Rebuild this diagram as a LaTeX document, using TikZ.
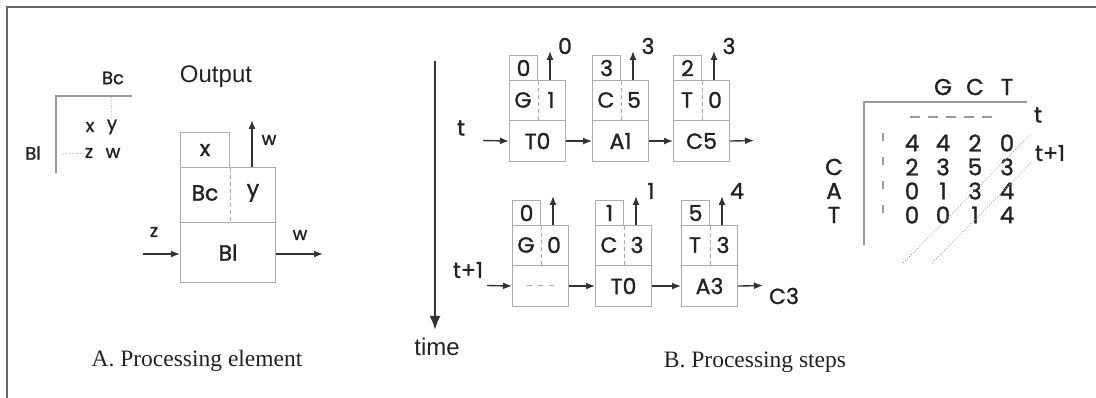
\documentclass[tikz,border=0pt]{standalone}
\usepackage{fontspec}
\setmainfont{Liberation Serif}
\newfontfamily\labfont[FakeBold=1.2]{Poppins}
\newfontfamily\arfont{Liberation Sans}
\usetikzlibrary{arrows.meta}
\definecolor{boxc}{HTML}{ABABAB}
\definecolor{ink}{HTML}{222222}
\definecolor{arrc}{HTML}{333333}
\definecolor{framec}{HTML}{666666}
\definecolor{linec}{HTML}{9A9A9A}
\newcommand\pecell[8]{%
  \node[cell,minimum width=28pt,minimum height=25pt] (#1s) at (#2,#3-25) {};
  \node[cell,minimum width=56pt,minimum height=40pt] (#1m) at (#2,#3) {};
  \node[cell,minimum width=56pt,minimum height=41pt] (#1b) at (#2,#3+40) {};
  \draw[boxc,line width=0.9pt,dash pattern=on 4pt off 3pt] (#1s.south east) -- (#1s.south east |- #1b.north);
  \node[lbl] (#1tn) at (#1s) {#4};
  \node[lbl] (#1ln) at (#2+14,#3+20) {#5};
  \node[lbl] (#1rn) at (#2+42,#3+20) {#6};
  \node[lbl] (#1bn) at (#1b) {#7};
  \coordinate (#1o) at (#2+41,#3);
  \coordinate (#1a) at (#2+41,#3-29);
  \draw[arr] (#1o) -- (#1a);
  \node[lbl] (#1al) at (#2+56,#3-34) {#8};
}
\begin{document}
\begin{tikzpicture}[x=1pt,y=-1pt,
  cell/.style={draw=boxc,line width=1.1pt,inner sep=0,anchor=north west},
  lbl/.style={text=ink,font=\labfont\fontsize{22}{22}\selectfont,inner sep=0},
  slbl/.style={text=ink,font=\labfont\fontsize{18}{18}\selectfont,inner sep=0},
  mlbl/.style={text=ink,font=\labfont\fontsize{23}{23}\selectfont,inner sep=0},
  arlbl/.style={text=ink,font=\arfont\fontsize{24}{24}\selectfont,inner sep=0},
  captxt/.style={text=ink,font=\fontsize{23.5}{24}\selectfont,inner sep=0},
  arr/.style={draw=arrc,line width=1.4pt,-{Latex[length=9pt,width=7pt]}},
  lthin/.style={draw=linec,line width=1.2pt}]
\useasboundingbox (0,0) rectangle (1096,398);
% frame
\draw[framec,line width=2pt] (7,398) -- (7,7) -- (1096,7);

% ---------- A: small legend ----------
\node[slbl] (lbc) at (113,78) {Bc};
\node[slbl] (lbl) at (33,153) {Bl};
\draw[lthin] (132,96) -- (56,96) -- (56,173);
\node[slbl] (lx) at (90,127) {x};
\node[slbl] (ly) at (112,127) {y};
\node[slbl] (lz) at (89,153) {z};
\node[slbl] (lw) at (113,153) {w};
\coordinate (ldv) at (111,97);
\draw[linec,line width=0.9pt,dotted] (ldv) -- (ly.north);
\coordinate (ldh) at (63,154);
\draw[linec,line width=0.9pt,dotted] (ldh) -- (lz.west);

% ---------- A: processing element ----------
\node[arlbl] (out) at (216,77) {Output};
\node[cell,minimum width=49pt,minimum height=35pt] (px) at (180,132) {};
\node[cell,minimum width=95pt,minimum height=55pt] (pm) at (180,167) {};
\node[cell,minimum width=95pt,minimum height=60pt] (pb) at (180,222) {};
\draw[boxc,line width=0.9pt,dash pattern=on 4pt off 3pt] (px.south east) -- (px.south east |- pb.north);
\node[lbl] (pxt) at (px) {x};
\node[lbl] (pbc) at (205,193) {Bc};
\node[lbl] (pyt) at (253,193) {y};
\node[lbl] (pbl) at (pb) {Bl};
\coordinate (pwo) at (252,167);
\coordinate (pwa) at (252,120);
\draw[arr] (pwo) -- (pwa);
\node[slbl] (pwl) at (269,140) {w};
\coordinate (pzin) at (143,254);
\draw[arr] (pzin) -- (pb.west |- pzin);
\node[slbl] (pzl) at (154,232) {z};
\coordinate (pwout) at (323,254);
\draw[arr] (pb.east |- pwout) -- (pwout);
\node[slbl] (pwl2) at (300,235) {w};
\node[captxt] (capA) at (197,361) {A. Processing element};

% ---------- B: time axis ----------
\coordinate (ttop) at (435,61);
\coordinate (tbot) at (435,330);
\draw[draw=arrc,line width=2.4pt,-{Latex[length=14pt,width=11pt]}] (ttop) -- (tbot);
\node[arlbl] (time) at (437,347) {time};

% ---------- B: row t ----------
\node[lbl] (rt) at (461,128) {t};
\pecell{a}{509}{80}{0}{G}{1}{T0}{0}
\pecell{b}{592}{80}{3}{C}{5}{A1}{3}
\pecell{c}{673}{80}{2}{T}{0}{C5}{3}
\coordinate (ain) at (483,140.5);
\coordinate (cout) at (754,140.5);
\draw[arr] (ain) -- (ab.west);
\draw[arr] (ab.east) -- (bb.west);
\draw[arr] (bb.east) -- (cb.west);
\draw[arr] (cb.east) -- (cout);

% ---------- B: row t+1 ----------
\node[lbl] (rt1) at (468,270) {t+1};
\pecell{d}{512}{225}{0}{G}{0}{}{}
\pecell{e}{595}{225}{1}{C}{3}{T0}{1}
\pecell{f}{681}{225}{5}{T}{3}{A3}{4}
\coordinate (dd1) at (527,285.5);
\coordinate (dd2) at (555,285.5);
\draw[boxc,line width=1pt,dash pattern=on 5pt off 6pt] (dd1) -- (dd2);
\coordinate (din) at (487,285.5);
\coordinate (fout) at (763,285.5);
\draw[arr] (din) -- (db.west);
\draw[arr] (db.east) -- (eb.west);
\draw[arr] (eb.east) -- (fb.west);
\draw[arr] (fb.east) -- (fout);
\node[lbl] (c3) at (784,296) {C3};
\node[captxt] (capB) at (755,362) {B. Processing steps};

% ---------- B: matrix ----------
\node[mlbl] (hg) at (943,87) {G};
\node[mlbl] (hc) at (975,87) {C};
\node[mlbl] (ht) at (1007,87) {T};
\draw[lthin] (1027,102) -- (864,102) -- (864,245);
\coordinate (mh1) at (910,117);
\coordinate (mh2) at (998,117);
\draw[linec,line width=1.1pt,dash pattern=on 10pt off 8pt] (mh1) -- (mh2);
\node[lbl] (mt) at (1038,115) {t};
\coordinate (mv1) at (883,133);
\coordinate (mv2) at (883,228);
\draw[linec,line width=1.1pt,dash pattern=on 8pt off 16pt] (mv1) -- (mv2);
\node[mlbl] (rc) at (834,167) {C};
\node[mlbl] (ra) at (834,191) {A};
\node[mlbl] (rtt) at (834,215) {T};
\foreach \row/\yy/\a/\b/\c/\d in {1/143/4/4/2/0, 2/167/2/3/5/3, 3/191/0/1/3/4, 4/215/0/0/1/4}{
  \node[mlbl] (m\row a) at (912,\yy) {\a};
  \node[mlbl] (m\row b) at (943,\yy) {\b};
  \node[mlbl] (m\row c) at (975,\yy) {\c};
  \node[mlbl] (m\row d) at (1007,\yy) {\d};
}
\node[lbl] (mt1) at (1050,153) {t+1};
\coordinate (dg1a) at (903,263);
\coordinate (dg1b) at (1030,135);
\coordinate (dg2a) at (932,263);
\coordinate (dg2b) at (1032,162);
\draw[linec,line width=0.9pt,dotted] (dg1a) -- (dg1b);
\draw[linec,line width=0.9pt,dotted] (dg2a) -- (dg2b);
\end{tikzpicture}
\end{document}
